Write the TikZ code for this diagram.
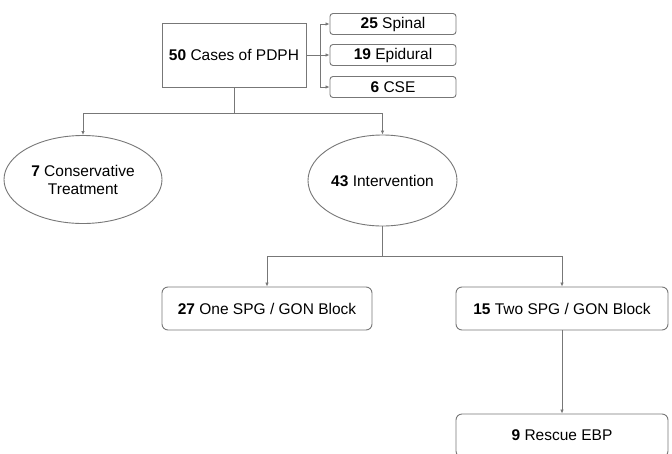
\documentclass[tikz,border=0pt]{standalone}
\usepackage{fontspec}
\setmainfont{Liberation Sans}
\usetikzlibrary{arrows.meta,shapes.geometric}
\definecolor{linegray}{HTML}{777777}
\tikzset{
  every node/.style={font=\fontsize{15.5}{18}\selectfont, text=black},
  plainbox/.style={draw=linegray, line width=0.9pt, rectangle, inner sep=0pt, align=center},
  smallbox/.style={plainbox, rounded corners=3pt, minimum width=126pt, minimum height=21pt},
  bigbox/.style={plainbox, rounded corners=6pt, minimum width=211pt, minimum height=43pt},
  oval/.style={draw=linegray, line width=0.9pt, ellipse, inner sep=0pt, align=center},
  conn/.style={draw=linegray, line width=0.9pt},
  arr/.style={conn, -{Latex[length=4pt,width=3.5pt]}}
}
\begin{document}
\begin{tikzpicture}[x=1pt,y=-1pt]
\useasboundingbox (0,0) rectangle (672,453);
\clip (0,0) rectangle (672,453);
\fill[white] (0,0) rectangle (672,453);

\node[plainbox, minimum width=144pt, minimum height=64pt] (main) at (234,55) {\textbf{50} Cases of PDPH};

\node[smallbox] (spinal) at (393,24) {\textbf{25} Spinal};
\node[smallbox] (epid) at (393,55) {\textbf{19} Epidural};
\node[smallbox] (cse) at (393,87) {\textbf{6} CSE};

\coordinate (split) at (320,55);
\draw[conn] (main.east) -- (split);
\draw[arr] (split) |- (spinal.west);
\draw[arr] (split) -- (epid.west);
\draw[arr] (split) |- (cse.west);

\node[oval, minimum width=158pt, minimum height=88pt] (cons) at (83,179.5) {\textbf{7} Conservative\\Treatment};
\node[oval, minimum width=149pt, minimum height=91pt] (inter) at (382.5,180.5) {\textbf{43} Intervention};

\coordinate (b1) at (234,113);
\draw[conn] (main.south) -- (b1);
\draw[arr] (b1) -| (cons.north);
\draw[arr] (b1) -| (inter.north);

\node[bigbox, minimum width=210pt] (one) at (267,308.5) {\textbf{27} One SPG / GON Block};
\node[bigbox, minimum width=212pt] (two) at (562,308.5) {\textbf{15} Two SPG / GON Block};
\node[bigbox, minimum width=212pt] (ebp) at (562,435.5) {\textbf{9} Rescue EBP};

\coordinate (b2) at (382.5,256);
\draw[conn] (inter.south) -- (b2);
\draw[arr] (b2) -| (one.north);
\draw[arr] (b2) -| (two.north);
\draw[arr] (two.south) -- (ebp.north);
\end{tikzpicture}
\end{document}
